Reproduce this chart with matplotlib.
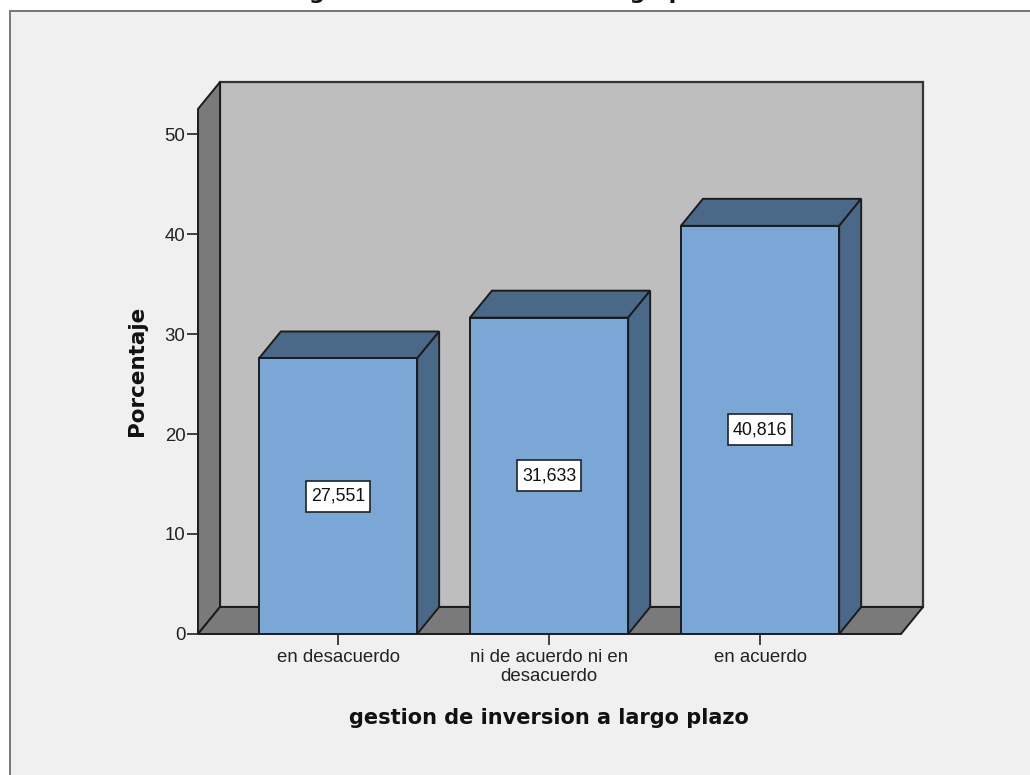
import matplotlib
matplotlib.use("Agg")
import matplotlib.pyplot as plt
from matplotlib.patches import Polygon, Rectangle

plt.rcParams['font.family'] = ['Liberation Sans', 'DejaVu Sans']

categories = ["en desacuerdo", "ni de acuerdo ni en\ndesacuerdo", "en acuerdo"]
porcentajes = [27.551, 31.633, 40.816]
value_labels = ["27,551", "31,633", "40,816"]
yticks = [0, 10, 20, 30, 40, 50]
title = "gestion de inversion a largo plazo"

W, H = 1030, 775
fig = plt.figure(figsize=(W / 100, H / 100), dpi=100, facecolor="white")

# grey panel behind the chart, only top and left edges are in the picture
fig.patches.append(Rectangle((10 / W, -0.01), 1, 1.01 - 11 / H, transform=fig.transFigure,
                             facecolor="#f0f0f0", edgecolor="#777777", lw=1.4, zorder=-1))

# axes = front plane of the 3D box
ax = fig.add_axes([198 / W, 1 - 634 / H, 703 / W, 525 / H])
ax.patch.set_visible(False)
ax.set_xlim(-0.6635, 2.668)
ax.set_ylim(0, 52.5)

# depth of the box in data units
dx = 22 / 211
dy = 2.7
x0, x1 = ax.get_xlim()
y0, y1 = ax.get_ylim()
edge = "#1c1c1c"

wall = Rectangle((x0 + dx, dy), x1 - x0, y1, facecolor="#bebebe", edgecolor="#333333", lw=1.6, clip_on=False, zorder=1)
left = Polygon([(x0, y0), (x0 + dx, dy), (x0 + dx, y1 + dy), (x0, y1)], facecolor="#7a7a7a", edgecolor=edge, lw=1.4, clip_on=False, zorder=1.5)
floor = Polygon([(x0, y0), (x1, y0), (x1 + dx, dy), (x0 + dx, dy)], facecolor="#7a7a7a", edgecolor=edge, lw=1.4, clip_on=False, zorder=1.5)
ax.add_patch(wall)
ax.add_patch(left)
ax.add_patch(floor)

width = 0.75
xs = list(range(len(categories)))
ax.bar(xs, porcentajes, width=width, color="#7ba7d7", edgecolor=edge, lw=1.4, zorder=3)

# top and side faces of each bar
for x, v in zip(xs, porcentajes):
    l, r = x - width / 2, x + width / 2
    top = Polygon([(l, v), (r, v), (r + dx, v + dy), (l + dx, v + dy)], facecolor="#4a6988", edgecolor=edge, lw=1.4, zorder=2.5)
    side = Polygon([(r, 0), (r + dx, dy), (r + dx, v + dy), (r, v)], facecolor="#4a6988", edgecolor=edge, lw=1.4, zorder=2.5)
    ax.add_patch(top)
    ax.add_patch(side)

# value boxes are taller than a text bbox would give, so draw them apart
box_w = 64 / 211
box_h = 3.1
for x, v, s in zip(xs, porcentajes, value_labels):
    ax.add_patch(Rectangle((x - box_w / 2, v / 2 - box_h / 2), box_w, box_h, facecolor="white",
                           edgecolor="#222222", lw=1.2, zorder=4))
    ax.text(x, v / 2, s, ha="center", va="center", fontsize=12.8, color="#111111", zorder=5)

for side_name in ax.spines:
    ax.spines[side_name].set_visible(False)
ax.set_xticks(xs)
ax.set_xticklabels(categories, fontsize=13.4, color="#222222", linespacing=1.1)
ax.set_yticks(yticks)
ax.tick_params(axis="y", length=8, width=1.2, color="#222222", labelsize=13.4, labelcolor="#222222", pad=1)
ax.tick_params(axis="x", length=8, width=1.2, color="#222222", pad=3)

fig.text(549 / W, 1 - 718 / H, title, ha="center", va="center", fontsize=15, fontweight="bold",
         family="DejaVu Sans", color="#111111")
fig.text(137 / W, 1 - 371 / H, "Porcentaje", ha="center", va="center", rotation=90, fontsize=15.5,
         fontweight="bold", family="DejaVu Sans", color="#111111")
# chart title is cut off by the top of the image, only descenders show
fig.text(522 / W, 1 + 0.5 / H, title, ha="center", va="baseline", fontsize=16, fontweight="bold",
         family="DejaVu Sans", color="#111111")

fig.savefig("out.png", dpi=100, facecolor="white")
